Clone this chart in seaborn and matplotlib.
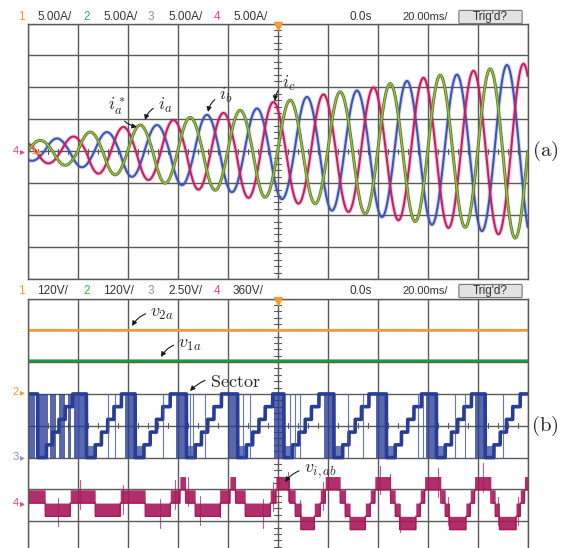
import numpy as np
import matplotlib
matplotlib.use("Agg")
import matplotlib.pyplot as plt
from matplotlib.patches import FancyBboxPatch
import seaborn as sns

# ---- data (20 ms/div, 10 div) ----
t = np.linspace(-100, 100, 8001)

# (a) phase currents, 5 A/div: extremum of every half cycle (10 ms each), in A
ia_ref_ext = [1.7, -2.2, 3.0, -3.7, 4.1, -5.0, 5.3, -6.1, 6.4, -7.2,
              8.0, -8.2, 9.3, -9.8, 10.6, -11.0, 11.9, -11.9, 12.9, -13.6]
ia_ext = [1.7, -2.2, 3.0, -3.7, 4.1, -5.0, 5.3, -6.1, 6.4, -7.2,
          8.0, -8.2, 9.3, -9.8, 10.6, -11.0, 11.9, -11.9, 12.9, -13.6]
ib_ext = [-1.5, 2.0, -2.5, 3.0, -4.0, 4.1, -5.3, 5.7, -6.4, 6.7, -7.5,
          8.5, -9.3, 9.5, -10.3, 11.0, -11.5, 12.0, -12.5, 13.5, -13.8]
ic_ext = [1.5, -1.9, 2.3, -3.5, 3.8, -4.5, 4.9, -6.0, 6.0, -7.3, 7.7,
          -8.2, 8.9, -9.5, 10.0, -10.8, 11.5, -12.0, 12.6, -13.0, 13.7]
ia_start, ib_start, ic_start = -100.0, -103.3, -106.7   # ms, first zero crossing

# (b) dc links (120 V/div), sector (2.5 V/div), line voltage (360 V/div)
v2a_dc = 240
v1a_dc = 125
vab_ext = [100, -100, 105, -105, 120, -125, 160, -140, 160, -145, 230,
           -220, 255, -260, 275, -285, 285, -290, 290, -295, 295]
vab_start = -103.0
vab_level = 150            # V between two output levels
vab_spikes = [-88, -79, -62, -47, -41, -36, -31, -23, -6, -2, 4, 9, 18,
              27, 41, 45, 49, 64, 68, 82, 88, 96]

sector_order = [1, 2, 3, 4, 5, 6]
sector_dwell = [3.5, 2.5, 2.5, 2.5, 3.0, 6.0]            # ms
sector_wrap = [-96, -76.5, -57, -36.5, -16, 2.5, 22.5, 43.5, 63.5, 83]
sector_chatter = [(-100, -97), (-95.5, -92), (-91, -88.5), (-87.5, -85),
                  (-84, -82.5), (-81.5, -80)]
sector_glitch = [-81, -80, -68, -65, -46, -35, -34, -29, -14, -11, 5, 7, 9,
                 28, 34, 56, 58, 71, 75, 90]

# ---- colours ----
c_or, c_gr, c_bl, c_mg = '#F39C32', '#1F9A3A', '#3F55B5', '#C81E64'
c_navy, c_wine = '#2A3D96', '#A8185A'
grid_c = '#5a5a5a'


def half_cycles(tt, start, ext, half=10.0):
    ext = np.asarray(ext, float)
    k = np.clip(((tt - start) // half).astype(int), 0, len(ext) - 1)
    ph = (tt - start - k * half) / half * np.pi
    return ext[k] * np.sin(ph)


def sector_signal(tt):
    s = np.full_like(tt, 6.0)
    for w in sector_wrap:
        edges = w + np.concatenate([[0], np.cumsum(sector_dwell)])
        for sec, a, b in zip(sector_order, edges[:-1], edges[1:]):
            s[(tt >= a) & (tt < b)] = sec
    return s


sns.set_theme(style="white")
plt.rcParams['mathtext.fontset'] = 'cm'
plt.rcParams['font.family'] = ['Liberation Sans', 'DejaVu Sans']

W, H = 565, 548
fig = plt.figure(figsize=(W / 100, H / 100), dpi=100)
ax_a = fig.add_axes([27.7 / W, 1 - 279 / H, 500 / W, (279 - 23.5) / H])
ax_b = fig.add_axes([27.7 / W, 1 - 553 / H, 500 / W, (553 - 298.5) / H])


def scope_axes(ax):
    ax.set_xlim(-100, 100)
    ax.set_ylim(-4, 4)
    ax.set_xticks(np.arange(-100, 101, 20))
    ax.set_yticks(np.arange(-4, 5, 1))
    ax.tick_params(length=0, labelbottom=False, labelleft=False)
    ax.grid(True, color=grid_c, linewidth=1.0)
    ax.set_axisbelow(True)
    for s in ax.spines.values():
        s.set_color(grid_c)
        s.set_linewidth(1.0)
    for x in np.arange(-100, 101, 4):
        ax.plot([x, x], [-0.08, 0.08], color=grid_c, lw=0.8, zorder=0.5)
    for y in np.arange(-4, 4.01, 0.2):
        ax.plot([-1.3, 1.3], [y, y], color=grid_c, lw=0.8, zorder=0.5)
    ax.plot([0], [3.93], marker='v', color=c_or, ms=6, clip_on=False, zorder=6)


scope_axes(ax_a)
scope_axes(ax_b)

# ---- (a) currents ----
ia_ref = half_cycles(t, ia_start, ia_ref_ext) / 5
ia = half_cycles(t, ia_start, ia_ext) / 5
ib = half_cycles(t, ib_start, ib_ext) / 5
ic = half_cycles(t, ic_start, ic_ext) / 5
for sig, col in [(ib, c_bl), (ic, c_mg)]:
    sns.lineplot(x=t, y=sig, ax=ax_a, color=col, lw=3.0, alpha=0.22, estimator=None)
    sns.lineplot(x=t, y=sig, ax=ax_a, color=col, lw=1.5, estimator=None)
sns.lineplot(x=t, y=ia, ax=ax_a, color=c_gr, lw=2.2, estimator=None)
sns.lineplot(x=t, y=ia_ref, ax=ax_a, color=c_or, lw=0.9, estimator=None)

# ---- (b) voltages and sector ----
ch12_gnd, ch3_gnd, ch4_gnd = 1.0, -1.0, -2.43
sns.lineplot(x=t, y=np.full_like(t, ch12_gnd + v2a_dc / 120), ax=ax_b,
             color=c_or, lw=2.0, estimator=None)
sns.lineplot(x=t, y=np.full_like(t, ch12_gnd + v1a_dc / 120), ax=ax_b,
             color=c_gr, lw=2.0, estimator=None)

sec = sector_signal(t)
sec_y = ch3_gnd + (sec - 1) / 2.5
sns.lineplot(x=t, y=sec_y, ax=ax_b, color=c_navy, lw=2.6, estimator=None)
chatter = np.zeros_like(t, dtype=bool)
for a, b in sector_chatter:
    chatter |= (t >= a) & (t < b)
for w in sector_wrap[1:]:
    chatter |= (t >= w - 4) & (t < w)
    ax_b.fill_between(t, ch3_gnd, ch3_gnd + 0.35, where=(t >= w) & (t < w + 3.5),
                      color=c_navy, alpha=0.7, lw=0)
ax_b.fill_between(t, ch3_gnd, ch3_gnd + 2, where=chatter, color=c_navy,
                  alpha=0.78, lw=0)
for g in sector_glitch:
    ax_b.plot([g, g], [ch3_gnd, ch3_gnd + 2], color=c_bl, lw=0.8, alpha=0.8)

vab = half_cycles(t, vab_start, vab_ext) / vab_level
lo = np.floor(vab) * vab_level / 360 + ch4_gnd
hi = np.ceil(vab) * vab_level / 360 + ch4_gnd
ax_b.fill_between(t, lo, hi, color=c_wine, alpha=0.9, lw=0)
sns.lineplot(x=t, y=lo, ax=ax_b, color=c_wine, lw=1.0, estimator=None)
vab_at = half_cycles(np.array(vab_spikes, float), vab_start, vab_ext) / 360 + ch4_gnd
for g, v in zip(vab_spikes, vab_at):
    ax_b.plot([g, g], [v - 0.45, v + 0.45], color=c_wine, lw=0.8, alpha=0.7)

# ---- annotations ----
def pa(x, y):
    return ((x - 277.7) / 2.5, (151.25 - y) / 31.94)


def pb(x, y):
    return ((x - 277.7) / 2.5, 4 - (y - 298.5) / 31.81)


arr = dict(arrowstyle='-|>', color='k', lw=0.8, mutation_scale=7,
           connectionstyle='arc3,rad=0.35', shrinkA=1, shrinkB=0)
for ax, conv, lab, txt, tip in [
        (ax_a, pa, r'$i_a^*$', (117, 106), (137, 127)),
        (ax_a, pa, r'$i_a$', (165, 105), (145, 120)),
        (ax_a, pa, r'$i_b$', (226, 95), (208, 112)),
        (ax_a, pa, r'$i_c$', (289, 83), (275, 101)),
        (ax_b, pb, r'$v_{2a}$', (162, 313), (132, 326)),
        (ax_b, pb, r'$v_{1a}$', (190, 344), (161, 357)),
        (ax_b, pb, r'$\mathrm{Sector}$', (235, 382), (190, 391)),
        (ax_b, pb, r'$v_{i,ab}$', (320, 471), (285, 482))]:
    ax.annotate(lab, xy=conv(*tip), xytext=conv(*txt), fontsize=13,
                ha='center', va='center', arrowprops=arr, zorder=8,
                annotation_clip=False)

fig.text(545 / W, 1 - 151 / H, r'$\mathrm{(a)}$', fontsize=15, ha='center', va='center')
fig.text(545 / W, 1 - 426 / H, r'$\mathrm{(b)}$', fontsize=15, ha='center', va='center')

# ---- scope headers ----
num_cols = [c_or, '#3BB54A', '#8A8FC8', '#E8458B']
for y0, scales in [(17, ['5.00A/'] * 4),
                   (291, ['120V/', '120V/', '2.50V/', '360V/'])]:
    yy = 1 - y0 / H
    for i, (xn, xs) in enumerate([(21, 37), (86.5, 103), (151, 168), (217, 233)]):
        fig.text(xn / W, yy, str(i + 1), color=num_cols[i], fontsize=8.5,
                 ha='center', va='center')
        fig.text(xs / W, yy, scales[i], color='#333333', fontsize=8.5, va='center')
    fig.text(361 / W, yy, '0.0s', color='#333333', fontsize=8.5, ha='center', va='center')
    fig.text(425 / W, yy, '20.00ms/', color='#333333', fontsize=8, ha='center', va='center')
    fig.add_artist(FancyBboxPatch((460 / W, yy - 5.5 / H), 61 / W, 11 / H,
                                  boxstyle='round,pad=0.002', transform=fig.transFigure,
                                  fc='#E2E2E2', ec='#777777', lw=0.8))
    fig.text(490.5 / W, yy, "Trig'd?", color='#333333', fontsize=8.5,
             ha='center', va='center')

# ground markers on the left edge
for xp, yp, lab, col in [(16, 151, '4', '#E8458B'), (33, 151, '1', c_or),
                         (16, 392, '2', c_or), (16, 457, '3', '#8A8FC8'),
                         (16, 503, '4', '#E8458B')]:
    fig.text(xp / W, 1 - yp / H, lab, color=col, fontsize=8, ha='center',
             va='center', zorder=10)
    fig.text((xp + 6) / W, 1 - yp / H, '\u25b8', color=col, fontsize=7,
             ha='center', va='center', zorder=10)

fig.savefig('out.png', dpi=100)
